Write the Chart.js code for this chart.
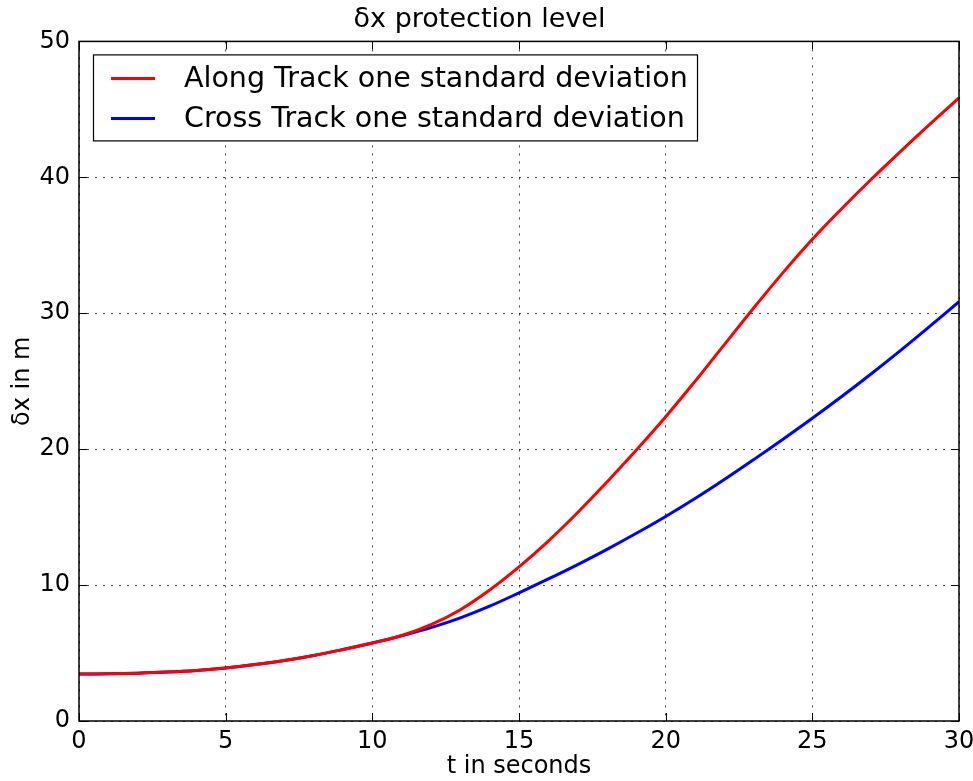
<!DOCTYPE html>
<html>
<head>
<meta charset="utf-8">
<script src="https://cdn.jsdelivr.net/npm/chart.js@4"></script>
<style>
html, body { margin: 0; padding: 0; background: #fff; }
#wrap { width: 973px; height: 781px; }
</style>
</head>
<body>
<div id="wrap"><canvas id="grafico"></canvas></div>
<script>
// time in seconds
const tiempo = [0,1,2,3,4,5,6,7,8,9,10,11,12,13,14,15,16,17,18,19,20,21,22,23,24,25,26,27,28,29,30];
// along track one standard deviation (m)
const alongTrack = [3.45,3.47,3.52,3.6,3.72,3.9,4.15,4.45,4.82,5.26,5.74,6.29,7.09,8.19,9.64,11.34,13.24,15.34,17.59,19.94,22.39,24.99,27.69,30.39,32.99,35.44,37.69,39.84,41.89,43.89,45.84];
// cross track one standard deviation (m)
const crossTrack = [3.45,3.47,3.52,3.6,3.72,3.9,4.15,4.45,4.82,5.26,5.74,6.27,6.87,7.59,8.45,9.43,10.45,11.51,12.63,13.81,15.05,16.37,17.77,19.23,20.73,22.27,23.87,25.53,27.25,29.03,30.85];
const xTicks = [0,5,10,15,20,25,30];
const yTicks = [0,10,20,30,40,50];

const FONT = "'DejaVu Sans', sans-serif";

function puntos(ys) {
  return tiempo.map(function (t, i) { return {x: t, y: ys[i]}; });
}

// frame, inward ticks and legend box like the matplotlib original
const marco = {
  id: "marco",
  afterDraw: function (chart) {
    const ctx = chart.ctx;
    const a = chart.chartArea;
    const sx = chart.scales.x, sy = chart.scales.y;
    ctx.save();
    ctx.strokeStyle = "#000";
    ctx.lineWidth = 1.5;
    ctx.strokeRect(a.left, a.top, a.right - a.left, a.bottom - a.top);
    ctx.lineWidth = 1;
    ctx.beginPath();
    xTicks.forEach(function (v) {
      const px = Math.round(sx.getPixelForValue(v)) + 0.5;
      ctx.moveTo(px, a.bottom); ctx.lineTo(px, a.bottom - 8);
      ctx.moveTo(px, a.top); ctx.lineTo(px, a.top + 8);
    });
    yTicks.forEach(function (v) {
      const py = Math.round(sy.getPixelForValue(v)) + 0.5;
      ctx.moveTo(a.left, py); ctx.lineTo(a.left + 8, py);
      ctx.moveTo(a.right, py); ctx.lineTo(a.right - 8, py);
    });
    ctx.stroke();

    // legend
    const lx = a.left + 14, ly = a.top + 13, lw = 604, lh = 86;
    ctx.fillStyle = "#fff";
    ctx.fillRect(lx, ly, lw, lh);
    ctx.strokeStyle = "#000";
    ctx.lineWidth = 1.2;
    ctx.strokeRect(lx + 0.5, ly + 0.5, lw, lh);
    ctx.font = "28.5px " + FONT;
    ctx.textBaseline = "middle";
    chart.data.datasets.forEach(function (ds, i) {
      const yy = ly + 24 + i * 40;
      ctx.strokeStyle = ds.borderColor;
      ctx.lineWidth = 3;
      ctx.beginPath();
      ctx.moveTo(lx + 18, yy); ctx.lineTo(lx + 62, yy);
      ctx.stroke();
      ctx.fillStyle = "#000";
      ctx.fillText(ds.label, lx + 91, yy + 1);
    });
    ctx.restore();
  }
};

new Chart(document.getElementById("grafico"), {
  type: "line",
  data: {
    datasets: [{
      label: "Along Track one standard deviation",
      data: puntos(alongTrack),
      borderColor: "#ff0000",
      borderWidth: 3,
      pointRadius: 0,
      tension: 0.4,
      fill: false
    }, {
      label: "Cross Track one standard deviation",
      data: puntos(crossTrack),
      borderColor: "#0000ff",
      borderWidth: 3,
      pointRadius: 0,
      tension: 0.4,
      fill: false
    }]
  },
  options: {
    responsive: true,
    maintainAspectRatio: false,
    animation: false,
    layout: { padding: { right: 14, left: 0, top: 0, bottom: 0 } },
    plugins: {
      legend: { display: false },
      tooltip: { enabled: false },
      title: {
        display: true,
        text: "δx protection level",
        color: "#000",
        font: { family: FONT, size: 27, weight: "normal" },
        padding: { top: 4, bottom: 5 }
      }
    },
    scales: {
      x: {
        type: "linear",
        min: 0, max: 30,
        afterFit: function (s) { s.height = 60; s.paddingRight = 0; s.paddingLeft = 0; },
        afterBuildTicks: function (s) { s.ticks = xTicks.map(function (v) { return {value: v}; }); },
        ticks: { color: "#000", font: { family: FONT, size: 24 }, padding: 6, maxRotation: 0 },
        grid: { color: "rgba(0,0,0,0.75)", drawTicks: false, lineWidth: 1 },
        border: { display: false, dash: [2, 6] },
        title: { display: true, text: "t in seconds", color: "#000", font: { family: FONT, size: 24 }, padding: { top: 0, bottom: 0 } }
      },
      y: {
        type: "linear",
        min: 0, max: 50,
        afterFit: function (s) { s.width = 79; },
        afterBuildTicks: function (s) { s.ticks = yTicks.map(function (v) { return {value: v}; }); },
        ticks: { color: "#000", font: { family: FONT, size: 24 }, padding: 9 },
        grid: { color: "rgba(0,0,0,0.75)", drawTicks: false, lineWidth: 1 },
        border: { display: false, dash: [2, 6] },
        title: { display: true, text: "δx in m", color: "#000", font: { family: FONT, size: 24 }, padding: { top: 8, bottom: 0 } }
      }
    }
  },
  plugins: [marco]
});
</script>
</body>
</html>
